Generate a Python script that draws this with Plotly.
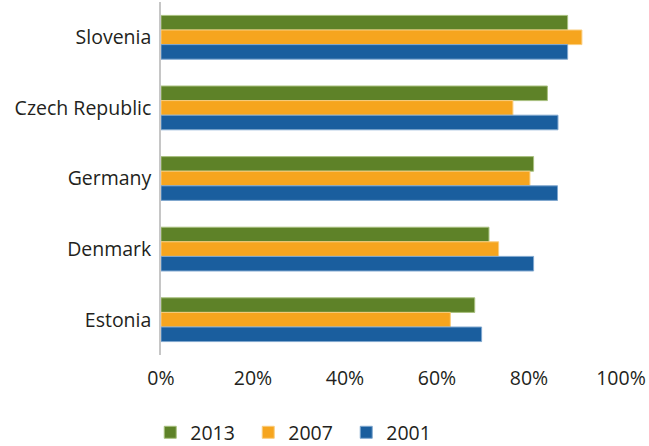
import plotly.graph_objects as go

countries = ["Slovenia", "Czech Republic", "Germany", "Denmark", "Estonia"]
years = ["2013", "2007", "2001"]
v2013 = [88.4, 84.0, 81.0, 71.3, 68.2]
v2007 = [91.5, 76.5, 80.2, 73.4, 62.9]
v2001 = [88.4, 86.3, 86.2, 81.0, 69.7]
colors = ["#5e8228", "#f6a51e", "#1a5e9e"]
edge = ["#a9c07f", "#f9cd7e", "#7fa7cf"]

fig = go.Figure()
for name, vals, c, e in zip(years, [v2013, v2007, v2001], colors, edge):
    fig.add_trace(go.Bar(
        y=countries, x=vals, name=name, orientation="h",
        marker=dict(color=c, line=dict(color=e, width=1)),
    ))

font = "Open Sans"
txt = "#231f20"
fs = 19.5
fig.update_layout(
    width=649, height=446,
    margin=dict(l=161, r=28, t=2, b=91),
    paper_bgcolor="white", plot_bgcolor="white",
    barmode="group", bargap=0.38, bargroupgap=0,
    font=dict(family=font, size=fs, color=txt),
    showlegend=True,
    legend=dict(orientation="h", x=-0.0234, xanchor="left",
                yref="container", y=0.03, yanchor="middle",
                font=dict(size=fs, color=txt), entrywidth=53, entrywidthmode="pixels",
                traceorder="normal"),
)
fig.update_xaxes(range=[0, 100], tickvals=[0, 20, 40, 60, 80, 100],
                 ticktext=["0%", "20%", "40%", "60%", "80%", "100%"],
                 showgrid=False, zeroline=False, showline=False, automargin=False,
                 ticks="outside", ticklen=6, tickcolor="rgba(0,0,0,0)",
                 tickfont=dict(size=fs, color=txt))
fig.update_yaxes(autorange="reversed", showgrid=False, zeroline=False, automargin=False,
                 showline=True, linecolor="#c6c6c6", linewidth=1.5,
                 ticks="outside", ticklen=4, tickcolor="rgba(0,0,0,0)",
                 tickfont=dict(size=fs, color=txt))
fig.write_html("out.html", config={"displayModeBar": False},
               post_script="document.body.style.margin='0px';")
